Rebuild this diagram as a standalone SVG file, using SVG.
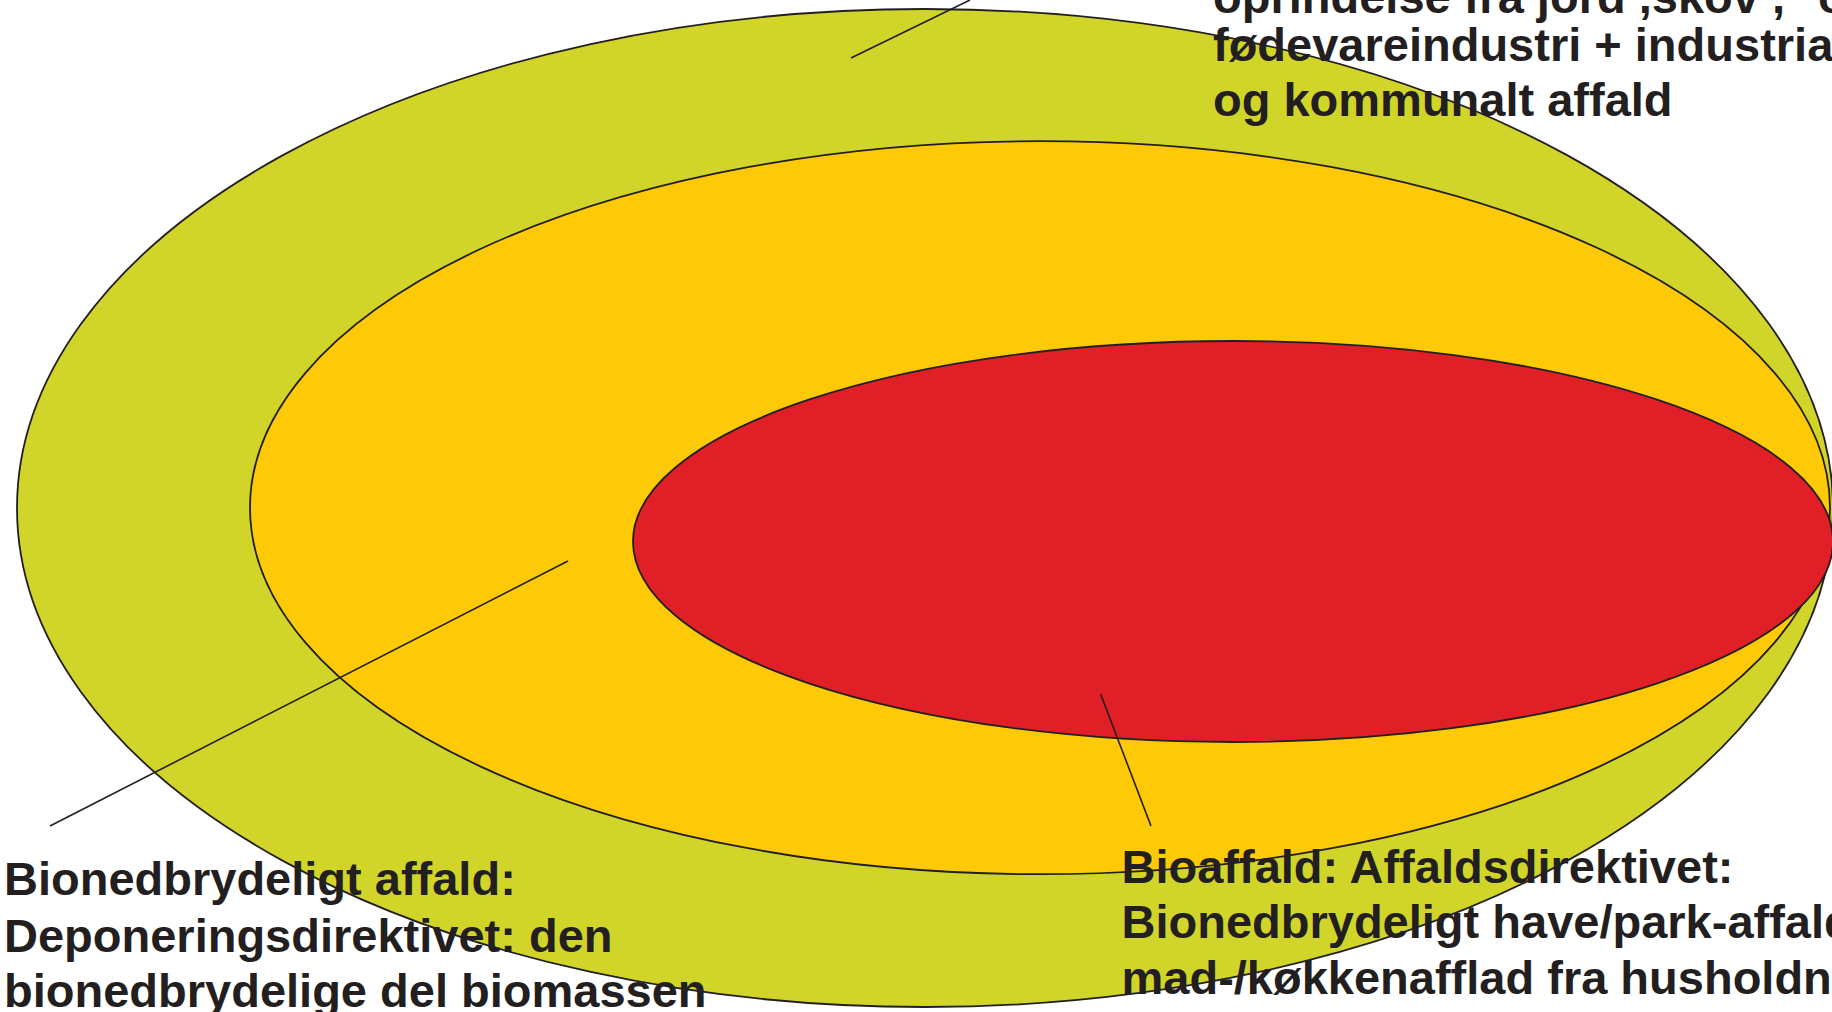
<svg xmlns="http://www.w3.org/2000/svg" width="1832" height="1012" viewBox="0 0 1832 1012">
<style>
.shape{stroke:#231F20;stroke-width:1.8}
.lbl{font-family:"Liberation Sans",Arial,sans-serif;font-weight:bold;font-size:47px;fill:#231F20}
.conn{stroke:#231F20;stroke-width:1.6;fill:none}
</style>
<rect width="1832" height="1012" fill="#FFFFFF"/>
<g id="biomasse">
<ellipse class="shape" cx="925" cy="508" rx="908" ry="499" fill="#D1D52A"/>
</g>
<g id="bionedbrydeligt">
<ellipse class="shape" cx="1040" cy="507.7" rx="790" ry="366.5" fill="#FEC907"/>
</g>
<g id="bioaffald">
<ellipse class="shape" cx="1233" cy="541.5" rx="600" ry="200.5" fill="#E01F27"/>
</g>
<g id="connectors">
<line class="conn" x1="851" y1="58" x2="970" y2="0"/>
<line class="conn" x1="568" y1="561" x2="50" y2="826"/>
<line class="conn" x1="1100.6" y1="694" x2="1151" y2="826"/>
</g>
<g id="label-biomasse">
<text class="lbl" x="1213" y="13">oprindelse fra jord ,skov ,<tspan x="1818">o</tspan></text>
<text class="lbl" x="1213" y="61">fødevareindustri + industrial</text>
<text class="lbl" x="1213" y="116">og kommunalt affald</text>
</g>
<g id="label-bionedbrydeligt">
<text class="lbl" x="4" y="895">Bionedbrydeligt affald:</text>
<text class="lbl" x="4" y="952">Deponeringsdirektivet: den</text>
<text class="lbl" x="4" y="1007">bionedbrydelige del biomassen</text>
</g>
<g id="label-bioaffald">
<text class="lbl" x="1121.5" y="883">Bioaffald: Affaldsdirektivet:</text>
<text class="lbl" x="1121.5" y="938">Bionedbrydeligt have/park-affald</text>
<text class="lbl" x="1121.5" y="994">mad-/køkkenafflad fra husholdning</text>
</g>
</svg>
